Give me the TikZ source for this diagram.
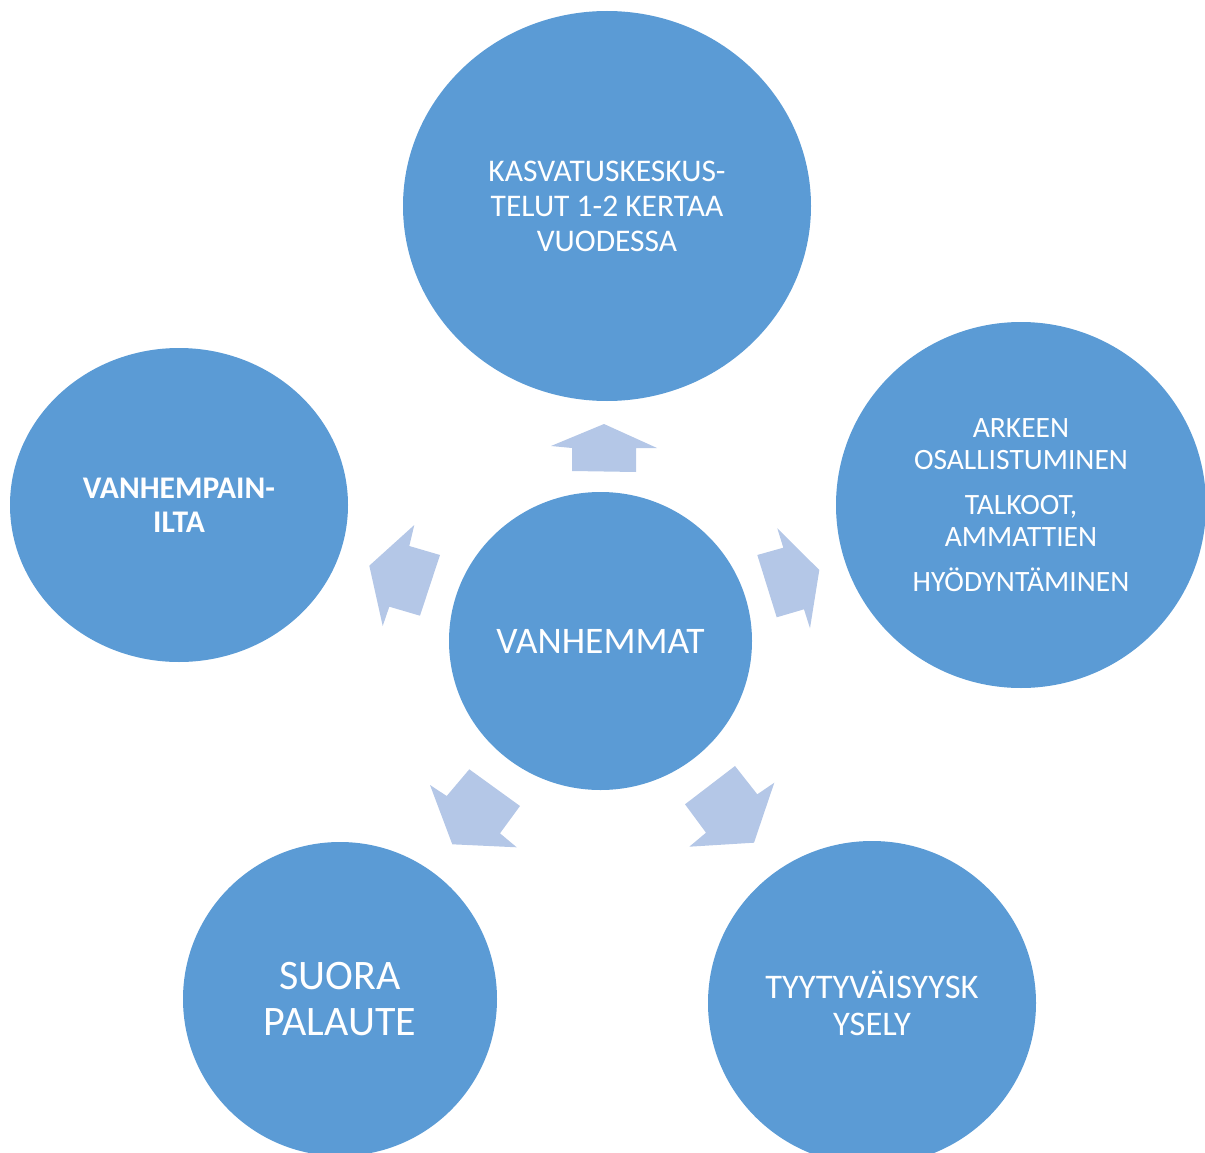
\documentclass[tikz,border=0pt]{standalone}
\usepackage{fontspec}
\setmainfont{Carlito}
\usetikzlibrary{shapes.geometric}
\definecolor{circ}{HTML}{5B9BD5}
\definecolor{arr}{HTML}{B4C7E7}
\tikzset{
  bubble/.style={ellipse, fill=circ, draw=none, inner sep=0pt, text=white, align=center},
  blockarrow/.style={fill=arr, draw=none},
}
\begin{document}
\begin{tikzpicture}[x=1pt, y=-1pt]
\useasboundingbox (0,0) rectangle (1205,1153);
\node[bubble, minimum width=408pt, minimum height=390pt, font=\fontsize{31.5}{35}\selectfont] (top) at (607,206) {KASVATUSKESKUS-\\TELUT 1-2 KERTAA\\VUODESSA};
\node[bubble, minimum width=338pt, minimum height=314pt, font=\bfseries\fontsize{31.5}{34}\selectfont] (left) at (179,505) {VANHEMPAIN-\\ILTA};
\node[bubble, minimum width=370pt, minimum height=366pt, font=\fontsize{29.5}{32}\selectfont] (right) at (1021,505) {ARKEEN\\OSALLISTUMINEN\\[13pt]TALKOOT,\\AMMATTIEN\\[13pt]HYÖDYNTÄMINEN};
\node[bubble, minimum width=303pt, minimum height=298pt, font=\fontsize{37.5}{43}\selectfont] (center) at (600.5,641) {VANHEMMAT};
\node[bubble, minimum width=314pt, minimum height=314pt, font=\fontsize{42}{46}\selectfont] (bl) at (340,999) {SUORA\\PALAUTE};
\node[bubble, minimum width=328pt, minimum height=324pt, font=\fontsize{34.5}{37}\selectfont] (br) at (872,1003) {TYYTYVÄISYYSK\\YSELY};
% arrows
\fill[blockarrow] (604,424) -- (657,448) -- (636,448) -- (636,472) -- (572,471) -- (572,448) -- (551,446) -- cycle;
\fill[blockarrow] (414.3,525) -- (409.3,546) -- (440,555) -- (420,615.7) -- (389.3,606.7) -- (382.7,626) -- (369.3,565.7) -- cycle;
\fill[blockarrow] (777.3,528.3) -- (819.3,570) -- (810,628.3) -- (804,609.3) -- (776.7,617.3) -- (757.3,555) -- (783.3,547.7) -- cycle;
\fill[blockarrow] (430,785) -- (446.7,796) -- (469.3,769.3) -- (520,806) -- (500,833.3) -- (516.7,847.3) -- (452.3,844.3) -- cycle;
\fill[blockarrow] (735,766) -- (757.3,794.3) -- (774.3,782.7) -- (754,842.7) -- (689.3,846.7) -- (706,832.7) -- (685,804.3) -- cycle;
\end{tikzpicture}
\end{document}
